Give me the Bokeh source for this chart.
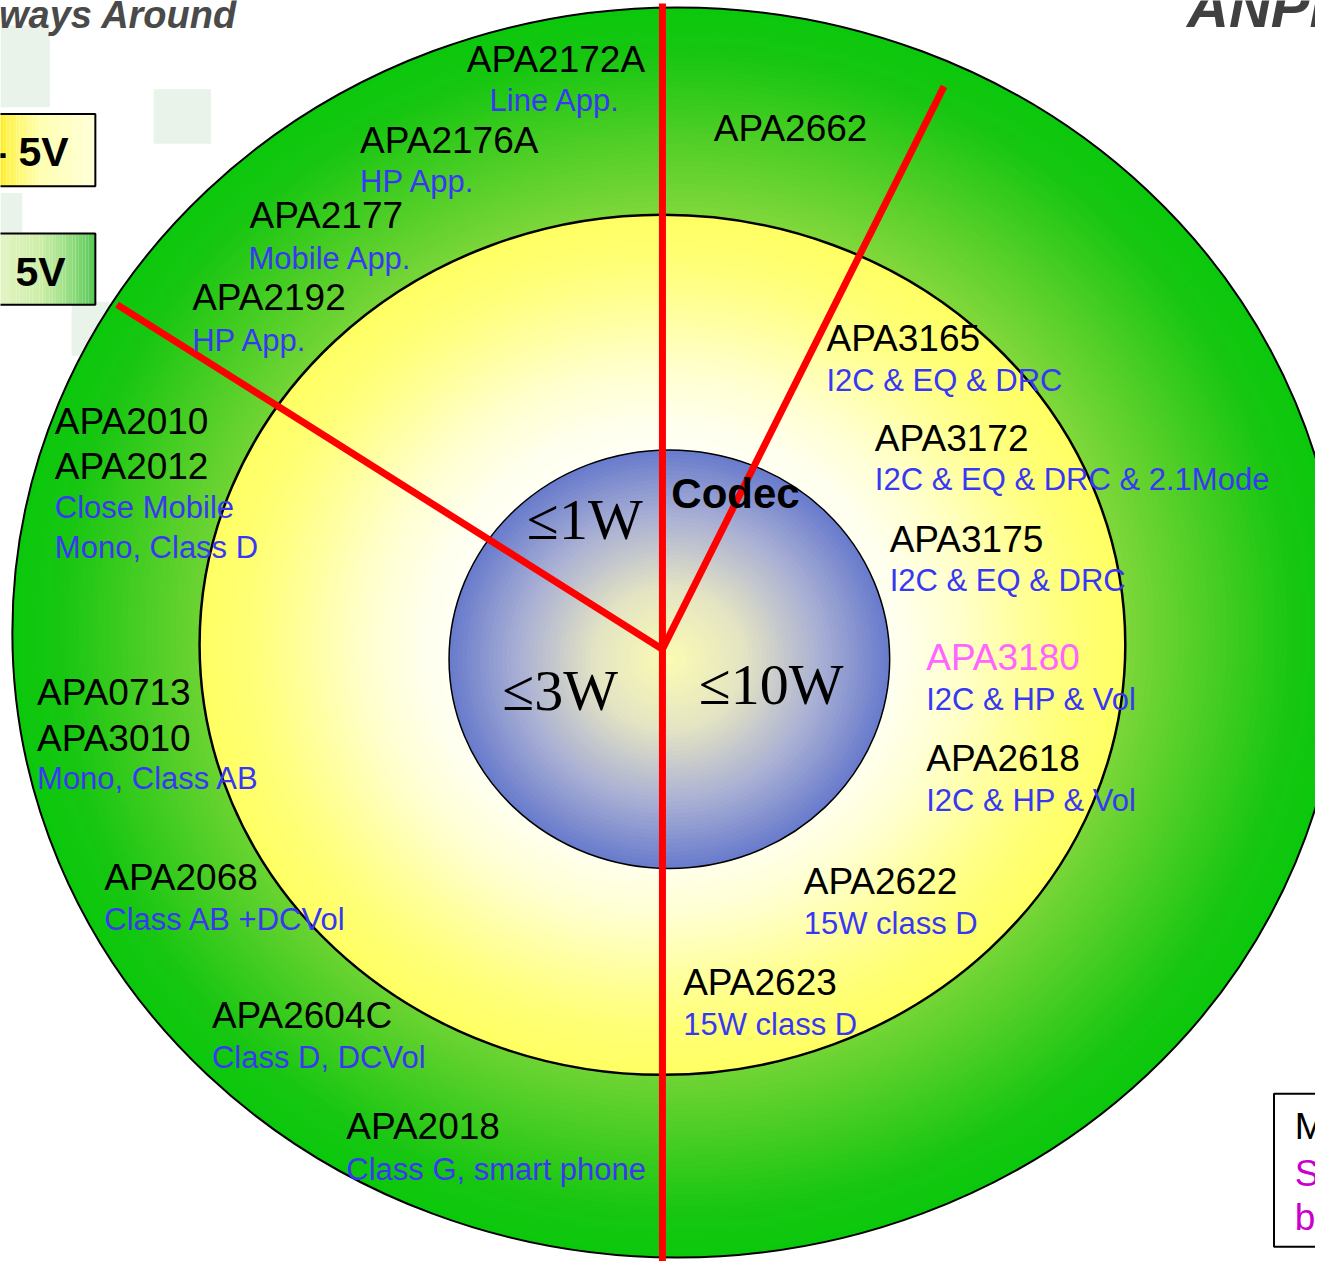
import numpy as np
from bokeh.plotting import figure
from bokeh.models import Range1d, ColumnDataSource
from bokeh.core.properties import value
from bokeh.embed import file_html
from bokeh.resources import INLINE

# ---------------- data ----------------
part_names = ["APA2172A", "APA2176A", "APA2177", "APA2192", "APA2662",
              "APA2010", "APA2012", "APA0713", "APA3010", "APA2068",
              "APA2604C", "APA2018", "APA3165", "APA3172", "APA3175",
              "APA3180", "APA2618", "APA2622", "APA2623"]
part_x = [472, 364, 252, 194, 722, 55, 55, 37, 37, 105, 214, 350,
          836, 885, 900, 937, 937, 813, 691]
part_y = [72, 154, 230, 313, 142, 439, 484, 713, 760, 900, 1040, 1153,
          354, 456, 558, 678, 780, 904, 1007]
part_colors = ["#000000"] * 15 + ["#ff66ff"] + ["#000000"] * 3

desc_texts = ["Line App.", "HP App.", "Mobile App.", "HP App.",
              "Close Mobile", "Mono, Class D", "Mono, Class AB",
              "Class AB +DCVol", "Class D, DCVol", "Class G, smart phone",
              "I2C & EQ & DRC", "I2C & EQ & DRC & 2.1Mode", "I2C & EQ & DRC",
              "I2C & HP & Vol", "I2C & HP & Vol", "15W class D", "15W class D"]
desc_x = [495, 364, 251, 194, 55, 55, 37, 105, 214, 350,
          836, 885, 900, 937, 937, 813, 691]
desc_y = [111, 194, 271, 355, 524, 564, 798, 941, 1081, 1194,
          395, 495, 598, 718, 820, 945, 1047]

power_labels = ["\u22641W", "\u22643W", "\u226410W"]
power_x = [533, 508, 707]
power_y = [545, 718, 712]

codec_label = ["Codec"]
codec_x = [679]
codec_y = [513]

voltage_labels = ["- 5V", "5V"]
voltage_x = [69, 66]
voltage_y = [167, 288]

note_labels = ["M", "S", "b"]
note_colors = ["#000000", "#cc00cc", "#cc00cc"]
note_x = [1310, 1310, 1310]
note_y = [1153, 1200, 1245]

# rings: (cx, cy, rx, ry)
outer_ring = (685, 640, 673, 633)
middle_ring = (670, 652.5, 468.5, 435.5)
inner_ring = (677, 667, 223, 212)

# dividers (x0, y0, x1, y1)
div_x0 = [670, 670, 670]
div_y0 = [3, 657, 657]
div_x1 = [670, 955, 118]
div_y1 = [1290, 87, 308]

# ---------------- helpers ----------------
def interp_color(s, stops):
    ss = [a for a, _ in stops]
    r = np.interp(s, ss, [c[0] for _, c in stops])
    g = np.interp(s, ss, [c[1] for _, c in stops])
    b = np.interp(s, ss, [c[2] for _, c in stops])
    return "#%02x%02x%02x" % (int(round(r)), int(round(g)), int(round(b)))


def base(ys, size):
    # place the alphabetic baseline where it is measured in the reference
    return [y - 0.33 * size for y in ys]


p = figure(width=1315, height=1261, output_backend="svg", toolbar_location=None,
           x_range=Range1d(0, 1331), y_range=Range1d(1277, 0),
           min_border=0, background_fill_color="white", border_fill_color="white")
p.axis.visible = False
p.grid.visible = False
p.outline_line_color = None


def grad_ellipse(ring, s_from, s_to, n, stops, lw=2):
    cx, cy, rx, ry = ring
    svals = np.linspace(s_from, s_to, n)
    src = ColumnDataSource(dict(
        x=[cx] * n, y=[cy] * n,
        w=list(2 * rx * svals), h=list(2 * ry * svals),
        c=[interp_color(s, stops) for s in svals]))
    p.ellipse(x="x", y="y", width="w", height="h", fill_color="c",
              line_color=None, source=src)
    p.ellipse(x=[cx], y=[cy], width=[2 * rx], height=[2 * ry],
              fill_color=None, line_color="black", line_width=lw)


# faint background squares
p.quad(left=[0, 155, 0, 72], right=[50, 213, 22, 110], top=[25, 90, 195, 305],
       bottom=[108, 145, 235, 360], fill_color="#e9f3e9", line_color=None)

# voltage boxes with gradient
nb = 30
bx = np.linspace(-4, 96, nb + 1)
mids = (bx[:-1] + bx[1:]) / 2
c1 = [interp_color(v, [(-4, (255, 232, 20)), (10, (255, 245, 90)), (40, (255, 255, 175)),
                       (96, (255, 255, 215))]) for v in mids]
c2 = [interp_color(v, [(-4, (228, 244, 195)), (40, (205, 238, 168)), (70, (150, 222, 130)),
                       (96, (84, 200, 84))]) for v in mids]
p.quad(left=list(bx[:-1]), right=list(bx[1:]), top=[115] * nb, bottom=[188] * nb,
       fill_color=c1, line_color=None)
p.quad(left=list(bx[:-1]), right=list(bx[1:]), top=[236] * nb, bottom=[308] * nb,
       fill_color=c2, line_color=None)
p.quad(left=[-8, -8], right=[96, 96], top=[115, 236], bottom=[188, 308],
       fill_color=None, line_color="black", line_width=2)
p.text(x=voltage_x, y=base(voltage_y, 41), text=voltage_labels, text_align="right",
       text_baseline="alphabetic", text_font=value("Liberation Sans"),
       text_font_style="bold", text_font_size=value("41px"), text_color="black")

# rings
grad_ellipse(outer_ring, 1.0, 0.6, 45,
             [(0.6, (138, 218, 64)), (0.676, (126, 215, 58)), (0.8, (78, 206, 38)),
              (0.93, (24, 198, 18)), (1.0, (12, 200, 12))])
grad_ellipse(middle_ring, 1.0, 0.4, 45,
             [(0.4, (255, 255, 250)), (0.52, (255, 255, 238)), (0.65, (255, 255, 205)),
              (0.8, (255, 255, 150)), (0.9, (255, 255, 118)), (1.0, (255, 255, 100))], lw=2.5)
grad_ellipse(inner_ring, 1.0, 0.02, 50,
             [(0.0, (252, 252, 178)), (0.35, (228, 228, 196)), (0.7, (168, 175, 212)),
              (1.0, (106, 124, 204))], lw=1.5)

# dividers
p.segment(x0=div_x0, y0=div_y0, x1=div_x1, y1=div_y1, line_color="#ff0000",
          line_width=7, line_cap="butt")

# texts
p.text(x=part_x, y=base(part_y, 37), text=part_names, text_color=part_colors,
       text_align="left", text_baseline="alphabetic",
       text_font=value("Liberation Sans"), text_font_size=value("37px"))
p.text(x=desc_x, y=base(desc_y, 31), text=desc_texts, text_color="#3838f4",
       text_align="left", text_baseline="alphabetic",
       text_font=value("Liberation Sans"), text_font_size=value("31px"))
p.text(x=power_x, y=base(power_y, 58), text=power_labels, text_color="black",
       text_align="left", text_baseline="alphabetic",
       text_font=value("Liberation Serif"), text_font_size=value("58px"))
p.text(x=codec_x, y=base(codec_y, 42), text=codec_label, text_color="black",
       text_align="left", text_baseline="alphabetic", text_font_style="bold",
       text_font=value("Liberation Sans"), text_font_size=value("42px"))

# note box bottom-right
p.quad(left=[1289], right=[1345], top=[1107], bottom=[1262], fill_color="white",
       line_color="black", line_width=2)
p.text(x=note_x, y=base(note_y, 37), text=note_labels, text_color=note_colors,
       text_align="left", text_baseline="alphabetic",
       text_font=value("Liberation Sans"), text_font_size=value("37px"))

# header fragments
p.text(x=[240], y=base([27], 38), text=["Always Around"], text_color="#4a4a4a",
       text_align="right", text_baseline="alphabetic", text_font_style="bold italic",
       text_font=value("Liberation Sans"), text_font_size=value("38px"))
p.text(x=[1201], y=base([25], 58), text=["ANPEC"], text_color="#404040",
       text_align="left", text_baseline="alphabetic", text_font_style="bold italic",
       text_font=value("Liberation Sans"), text_font_size=value("58px"))

open("out.html", "w").write(file_html(p, INLINE))
